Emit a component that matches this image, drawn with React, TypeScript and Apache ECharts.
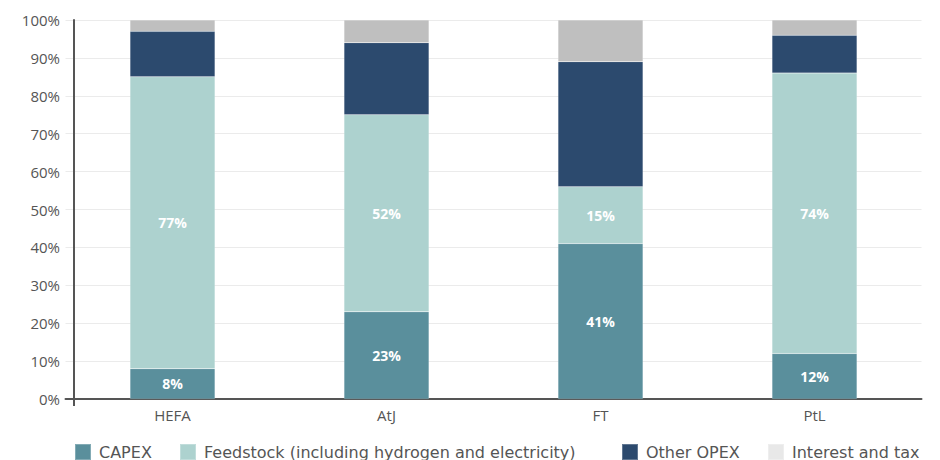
import React, { useEffect, useRef } from "react";
import * as echarts from "echarts";

const categories = ["HEFA", "AtJ", "FT", "PtL"];
const capex = [8, 23, 41, 12];
const feedstock = [77, 52, 15, 74];
const otherOpex = [12, 19, 33, 10];
const interestTax = [3, 6, 11, 4];
const yTicks = [0, 10, 20, 30, 40, 50, 60, 70, 80, 90, 100];

const seriesNames = [
  "CAPEX",
  "Feedstock (including hydrogen and electricity)",
  "Other OPEX",
  "Interest and tax",
];
const seriesColors = ["#5a8f9c", "#add2cf", "#2c4a6e", "#bfbfbf"];
const legendColors = ["#5a8f9c", "#add2cf", "#2c4a6e", "#e8e8e8"];
const legendLefts = [74, 179, 621, 767];

const FONT = "'Open Sans', 'Noto Sans', sans-serif";
const LEGEND_FONT = "'DejaVu Sans', sans-serif";
const TEXT = "#555555";

export default function App() {
  const ref = useRef<HTMLDivElement>(null);

  useEffect(() => {
    if (!ref.current) return;
    const chart = echarts.init(ref.current, undefined, { renderer: "svg" });

    const pctLabel = {
      show: true,
      position: "inside",
      color: "#ffffff",
      fontFamily: FONT,
      fontWeight: "bold",
      fontSize: 14,
      formatter: (p: any) => `${p.value}%`,
    };

    const values = [capex, feedstock, otherOpex, interestTax];

    chart.setOption({
      animation: false,
      textStyle: { fontFamily: FONT },
      grid: { left: 65.5, right: 18.5, top: 20, bottom: 61 },
      legend: seriesNames.map((name, i) => ({
        top: 443,
        left: legendLefts[i],
        padding: 0,
        itemWidth: 16,
        itemHeight: 16,
        icon: "rect",
        textStyle: {
          color: TEXT,
          fontSize: 16,
          fontFamily: LEGEND_FONT,
          padding: [0, 0, 0, 3],
        },
        data: [{ name, itemStyle: { color: legendColors[i] } }],
      })),
      xAxis: {
        type: "category",
        data: categories,
        axisLine: { lineStyle: { color: TEXT, width: 2 } },
        axisTick: { show: false },
        axisLabel: { color: TEXT, fontSize: 15, margin: 8 },
      },
      yAxis: {
        type: "value",
        min: yTicks[0],
        max: yTicks[yTicks.length - 1],
        interval: 10,
        offset: -8.5,
        axisLine: { show: true, lineStyle: { color: TEXT, width: 2 } },
        axisTick: { show: false },
        axisLabel: {
          color: TEXT,
          fontSize: 15,
          margin: 14,
          formatter: (v: number) => `${v}%`,
        },
        splitLine: { lineStyle: { color: "#ebebeb", width: 1 } },
      },
      graphic: [
        {
          type: "line",
          shape: { x1: 74, y1: 399, x2: 74, y2: 406 },
          style: { stroke: TEXT, lineWidth: 2 },
        },
      ],
      series: seriesNames.map((name, i) => ({
        type: "bar",
        stack: "total",
        barWidth: 85,
        name,
        data: values[i],
        itemStyle: {
          color: seriesColors[i],
          borderColor: "rgba(255,255,255,0.25)",
          borderWidth: 0.5,
        },
        label: i < 2 ? pctLabel : { show: false },
      })),
    });

    return () => chart.dispose();
  }, []);

  return (
    <div
      ref={ref}
      style={{ position: "absolute", left: 0, top: 0, width: 940, height: 460 }}
    />
  );
}
